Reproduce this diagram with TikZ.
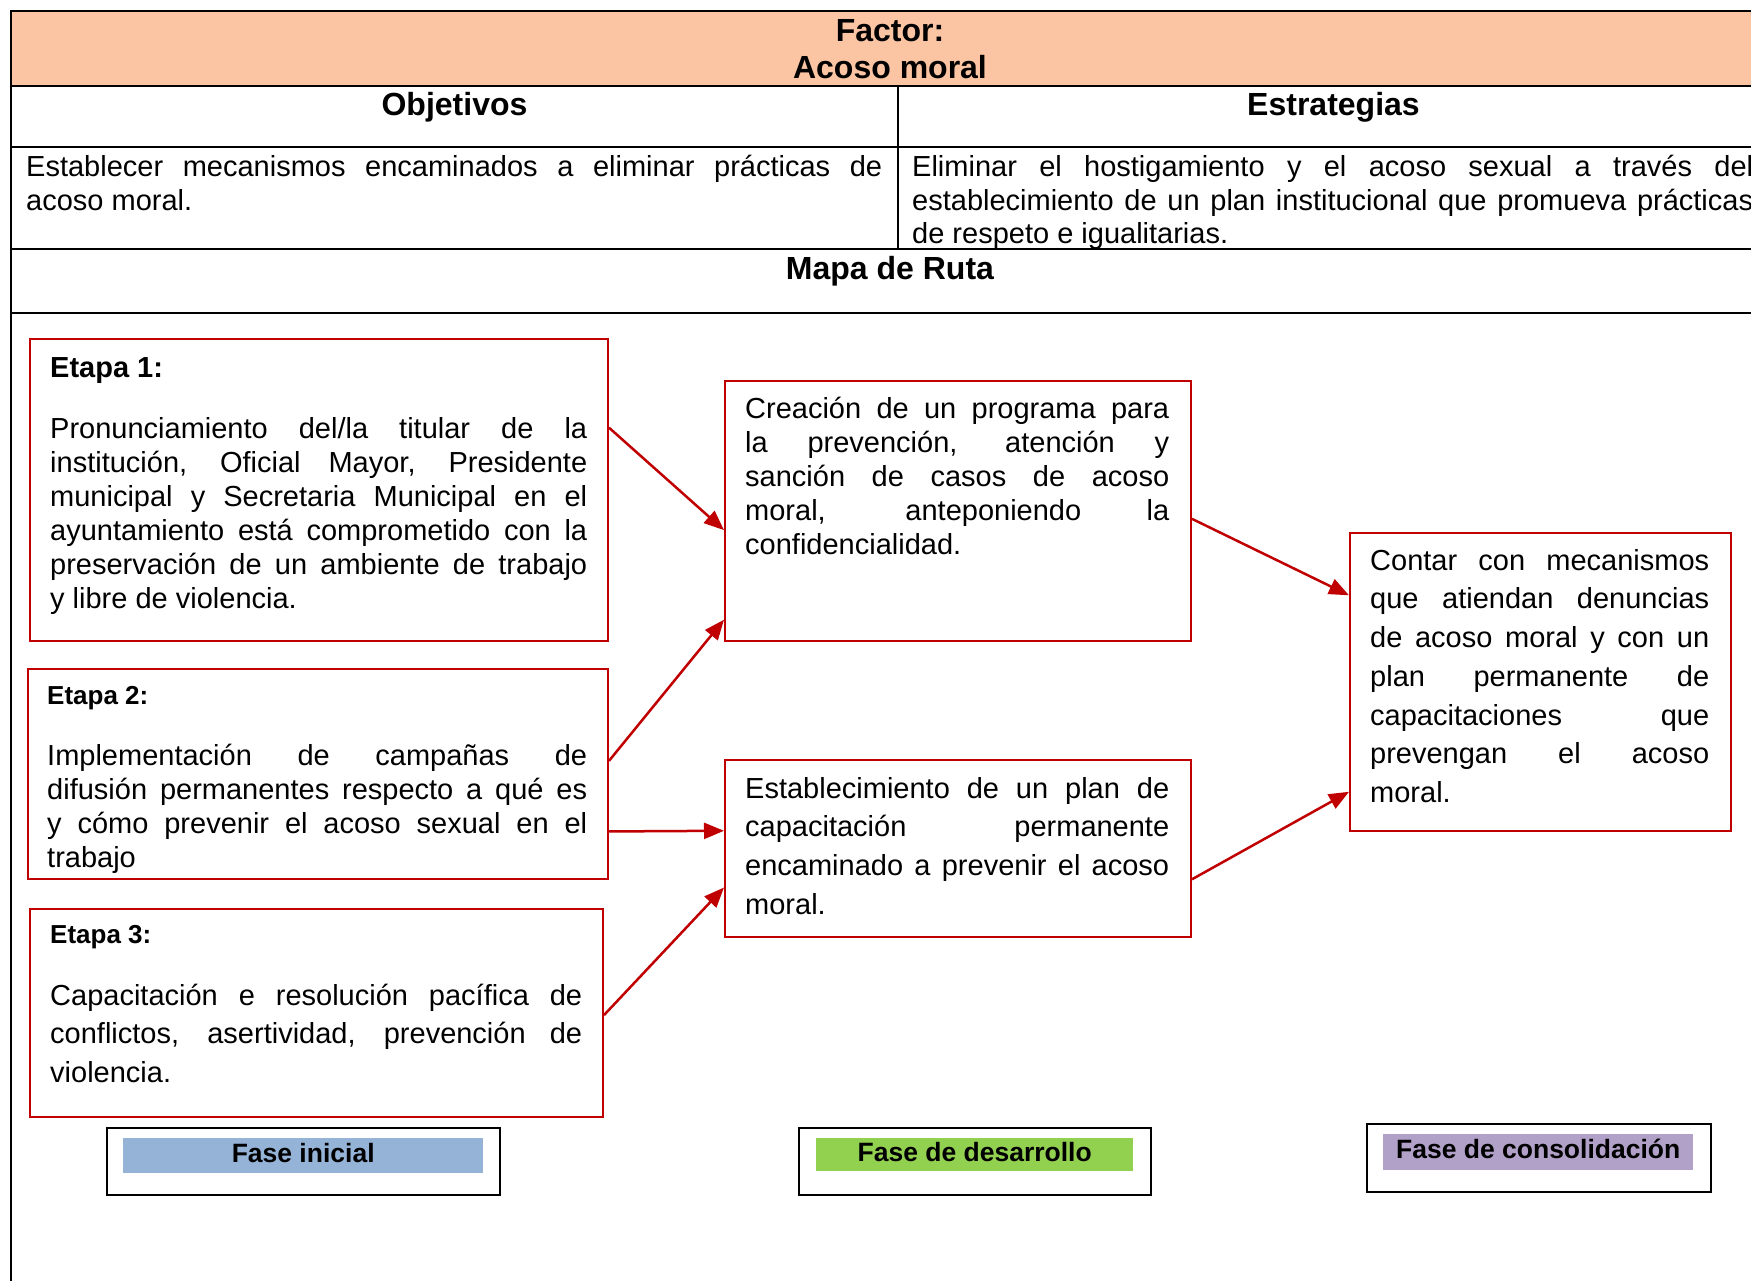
\documentclass[tikz,border=0pt]{standalone}
\usepackage{fontspec}
\setmainfont{Liberation Sans}
\usepackage{xcolor}
\usetikzlibrary{arrows.meta,calc,positioning}
\definecolor{factororange}{HTML}{FBC4A2}
\definecolor{boxred}{HTML}{C00000}
\definecolor{faseblue}{HTML}{95B3D7}
\definecolor{fasegreen}{HTML}{92D050}
\definecolor{fasepurple}{HTML}{B1A0C7}
\tolerance=10000
\hyphenpenalty=10000
\exhyphenpenalty=10000
\tikzset{
  tabline/.style={line width=2pt, black},
  headtext/.style={font=\fontsize{32pt}{37pt}\selectfont\bfseries, inner sep=0pt, anchor=base},
  bodytext/.style={font=\fontsize{29pt}{#1}\selectfont, align=justify, inner sep=0pt, anchor=north west},
  etapahead/.style={font=\fontsize{#1}{#1}\selectfont\bfseries, inner sep=0pt, anchor=base west},
  etapabox/.style={draw=boxred, line width=2pt, anchor=north west, inner sep=0pt},
  flecha/.style={draw=boxred, line width=2.5pt, -{Triangle[length=20pt,width=16pt]}},
  fasebox/.style={draw=black, line width=2pt, anchor=north west, inner sep=0pt},
  fasestrip/.style={fill=#1, anchor=north west, inner sep=0pt, text height=20pt, text depth=7pt,
    font=\fontsize{26.5pt}{30pt}\selectfont\bfseries},
}

\begin{document}
\begin{tikzpicture}[x=1pt,y=-1pt]
    % Page size of the reference (in px)
    \useasboundingbox (0,0) rectangle (1751,1281);
    \clip (0,0) rectangle (1751,1281);
    % Header band of the table
    \fill[factororange] (11,11) rectangle (1769,86);
    % Table frame, rows and column divider
    \draw[tabline] (11,1300) -- (11,11) -- (1769,11) -- (1769,1300);
    \foreach \y in {86,147,249,313} {
        \draw[tabline] (11,\y) -- (1769,\y);
    }
    \draw[tabline] (898,86) -- (898,249);
    % Titles
    \node[headtext] (factor) at (890,42) {Factor:};
    \node[headtext] (acoso) at (890,79) {Acoso moral};
    \node[headtext] (objetivos) at (454.5,116) {Objetivos};
    \node[headtext] (estrategias) at (1333.5,116) {Estrategias};
    \node[headtext] (mapa) at (890,280) {Mapa de Ruta};
    % Table cells
    \node[bodytext=33.5pt, text width=856pt] (objcell) at (26,153)
        {\strut Establecer mecanismos encaminados a eliminar prácticas de\linebreak acoso moral.};
    \node[bodytext=33.5pt, text width=841pt] (estcell) at (912,153)
        {\strut Eliminar el hostigamiento y el acoso sexual a través del\linebreak establecimiento de un plan institucional que promueva prácticas\linebreak de respeto e igualitarias.};

    % Etapa boxes (left column)
    \node[etapabox, minimum width=578pt, minimum height=302pt] (etapa1) at (29,338) {};
    \node[etapahead=29pt] (etapa1head) at (50,377) {Etapa 1:};
    \node[bodytext=33.9pt, text width=537pt] (etapa1text) at (50,415)
        {\strut Pronunciamiento del/la titular de la\linebreak institución, Oficial Mayor, Presidente\linebreak municipal y Secretaria Municipal en el\linebreak ayuntamiento está comprometido con la\linebreak preservación de un ambiente de trabajo\linebreak y libre de violencia.};

    \node[etapabox, minimum width=580pt, minimum height=210pt] (etapa2) at (27,668) {};
    \begin{scope}
        \clip (28,669) rectangle (606,876);
        \node[etapahead=26pt] (etapa2head) at (47,704) {Etapa 2:};
        \node[bodytext=33.9pt, text width=540pt] (etapa2text) at (47,742)
            {\strut Implementación de campañas de\linebreak difusión permanentes respecto a qué es\linebreak y cómo prevenir el acoso sexual en el\linebreak trabajo};
    \end{scope}

    \node[etapabox, minimum width=573pt, minimum height=208pt] (etapa3) at (29,908) {};
    \node[etapahead=26pt] (etapa3head) at (50,943) {Etapa 3:};
    \node[bodytext=38.5pt, text width=532pt] (etapa3text) at (50,978)
        {\strut Capacitación e resolución pacífica de\linebreak conflictos, asertividad, prevención de\linebreak violencia.};

    % Middle column
    \node[etapabox, minimum width=466pt, minimum height=260pt] (creacion) at (724,380) {};
    \node[bodytext=33.8pt, text width=424pt] (creaciontext) at (745,395)
        {\strut Creación de un programa para\linebreak la prevención, atención y\linebreak sanción de casos de acoso\linebreak moral, anteponiendo la\linebreak confidencialidad.};

    \node[etapabox, minimum width=466pt, minimum height=177pt] (plancap) at (724,759) {};
    \node[bodytext=38.7pt, text width=424pt] (plancaptext) at (745,771)
        {\strut Establecimiento de un plan de\linebreak capacitación permanente\linebreak encaminado a prevenir el acoso\linebreak moral.};

    % Right column
    \node[etapabox, minimum width=381pt, minimum height=298pt] (contar) at (1349,532) {};
    \node[bodytext=38.7pt, text width=339pt] (contartext) at (1370,543)
        {\strut Contar con mecanismos\linebreak que atiendan denuncias\linebreak de acoso moral y con un\linebreak plan permanente de\linebreak capacitaciones que\linebreak prevengan el acoso\linebreak moral.};

    % Arrows
    \draw[flecha] ($(etapa1.north east)!0.295!(etapa1.south east)$) -- ($(creacion.north west)!0.573!(creacion.south west)$);
    \draw[flecha] ($(etapa2.north east)!0.438!(etapa2.south east)$) -- ($(creacion.north west)!0.915!(creacion.south west)$);
    \draw[flecha] ($(etapa2.north east)!0.771!(etapa2.south east)$) -- ($(plancap.north west)!0.401!(plancap.south west)$);
    \draw[flecha] ($(etapa3.north east)!0.51!(etapa3.south east)$) -- ($(plancap.north west)!0.718!(plancap.south west)$);
    \draw[flecha] ($(creacion.north east)!0.53!(creacion.south east)$) -- ($(contar.north west)!0.211!(contar.south west)$);
    \draw[flecha] ($(plancap.north east)!0.672!(plancap.south east)$) -- ($(contar.north west)!0.866!(contar.south west)$);

    % Phase labels
    \node[fasebox, minimum width=393pt, minimum height=67pt] (faseinibox) at (106,1127) {};
    \node[fasestrip=faseblue, minimum width=360pt, minimum height=35pt] (faseini) at (123,1138) {Fase inicial};
    \node[fasebox, minimum width=352pt, minimum height=67pt] (fasedesbox) at (798,1127) {};
    \node[fasestrip=fasegreen, minimum width=317pt, minimum height=33pt] (fasedes) at (816,1138) {Fase de desarrollo};
    \node[fasebox, minimum width=344pt, minimum height=68pt] (faseconbox) at (1366,1123) {};
    \node[fasestrip=fasepurple, minimum width=310pt, minimum height=36pt] (fasecon) at (1383,1134) {Fase de consolidación};
\end{tikzpicture}
\end{document}
